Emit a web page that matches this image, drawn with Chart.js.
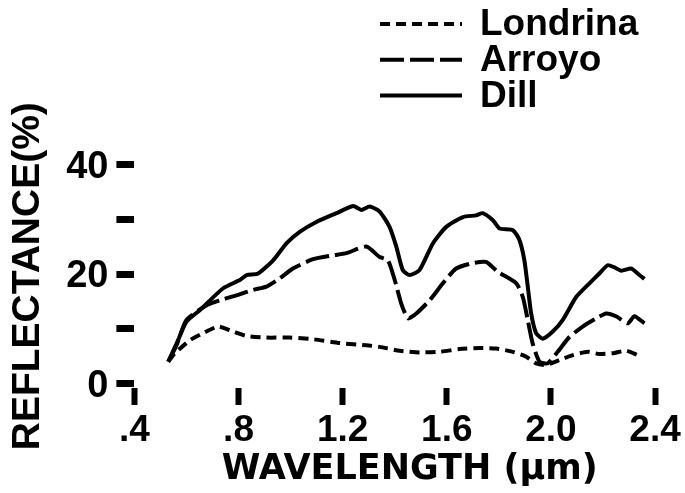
<!DOCTYPE html>
<html>
<head>
<meta charset="utf-8">
<script src="https://cdn.jsdelivr.net/npm/chart.js@4.4.1/dist/chart.umd.min.js"></script>
<style>
    html, body { margin: 0; padding: 0; background: #fff; }
    #wrap { width: 685px; height: 493px; position: relative; }
</style>
</head>
<body>
<div id="wrap"><canvas id="chartReflectance"></canvas></div>
<script>
// reflectance spectra of three soils

const seriesNames = ['Londrina', 'Arroyo', 'Dill'];

const londrinaWl = [0.530, 0.555, 0.613, 0.664, 0.722, 0.779, 0.831, 0.907, 0.997, 1.086, 1.189, 1.291, 1.342, 1.419, 1.495,
    1.572, 1.649, 1.726, 1.790, 1.854, 1.905, 1.943, 1.982, 2.033, 2.084, 2.141, 2.186, 2.244, 2.289, 2.333];
const londrinaRefl = [4.0, 5.5, 7.9, 9.2, 10.4, 9.5, 8.7, 8.4, 8.4, 8.1, 7.4, 7.0, 6.7, 6.0, 5.7,
    5.8, 6.3, 6.5, 6.4, 5.8, 4.9, 3.7, 3.4, 4.3, 5.2, 5.8, 5.4, 5.6, 6.0, 5.2];

const arroyoWl = [0.530, 0.562, 0.600, 0.677, 0.728, 0.792, 0.856, 0.907, 0.958, 1.009, 1.086, 1.163, 1.214, 1.291, 1.342,
    1.374, 1.400, 1.425, 1.451, 1.483, 1.534, 1.585, 1.636, 1.700, 1.751, 1.796, 1.867, 1.892, 1.911, 1.930,
    1.956, 1.988, 2.026, 2.071, 2.122, 2.174, 2.212, 2.250, 2.295, 2.321, 2.359];
const arroyoRefl = [4.0, 7.0, 11.6, 14.3, 15.2, 16.1, 17.1, 17.7, 19.2, 21.0, 22.7, 23.4, 23.8, 25.0, 23.1,
    22.5, 18.9, 14.6, 11.9, 12.8, 15.2, 18.3, 21.0, 22.0, 22.2, 20.4, 18.3, 15.8, 11.6, 7.3,
    4.0, 3.7, 5.8, 8.5, 10.4, 11.9, 12.8, 12.3, 11.0, 12.3, 11.0];

const dillWl = [0.530, 0.562, 0.600, 0.651, 0.741, 0.805, 0.831, 0.875, 0.933, 0.984, 1.035, 1.099, 1.176, 1.240, 1.272,
    1.304, 1.342, 1.380, 1.406, 1.431, 1.457, 1.495, 1.547, 1.598, 1.662, 1.713, 1.738, 1.777, 1.803, 1.854,
    1.879, 1.898, 1.911, 1.924, 1.943, 1.969, 2.007, 2.045, 2.097, 2.148, 2.186, 2.218, 2.244, 2.270, 2.308,
    2.333, 2.359];
const dillRefl = [4.0, 7.3, 11.3, 13.4, 17.4, 18.9, 19.8, 20.1, 22.5, 25.6, 27.7, 29.5, 31.1, 32.4, 31.7,
    32.3, 31.4, 28.6, 25.0, 20.7, 19.8, 20.7, 25.6, 28.6, 30.4, 30.7, 31.1, 29.8, 28.3, 28.0,
    26.2, 22.5, 17.7, 12.8, 9.2, 8.2, 9.5, 11.6, 15.8, 18.3, 20.1, 21.6, 21.2, 20.6, 21.0,
    20.1, 19.1];

const xTicks = [0.4, 0.8, 1.2, 1.6, 2.0, 2.4];
const xTickLabels = ['.4', '.8', '1.2', '1.6', '2.0', '2.4'];
const yTicks = [0, 10, 20, 30, 40];
const yTickLabels = ['0', '', '20', '', '40'];

const FONT_SANS = "'Liberation Sans', Arial, sans-serif";

function toPoints(wl, refl) {
    return wl.map((w, i) => ({ x: w, y: refl[i] }));
}

// legend: line sample on the left, name on the right, one per row
const legendaLinhas = {
    id: 'legendaLinhas',
    afterDraw(chart) {
        const ctx = chart.ctx;
        ctx.save();
        ctx.font = `bold 37px ${FONT_SANS}`;
        ctx.fillStyle = '#000';
        ctx.textBaseline = 'alphabetic';
        chart.data.datasets.forEach((ds, i) => {
            const base = 35 + i * 35.8;
            const yLine = base - 11;
            ctx.strokeStyle = ds.borderColor;
            ctx.lineWidth = ds.borderWidth;
            ctx.setLineDash(ds.borderDash || []);
            ctx.beginPath();
            ctx.moveTo(380, yLine);
            ctx.lineTo(462, yLine);
            ctx.stroke();
            ctx.setLineDash([]);
            ctx.fillText(ds.label, 480, base);
        });
        ctx.restore();
    }
};

const lineBase = {
    borderColor: '#000',
    borderWidth: 4,
    pointRadius: 0,
    fill: false,
    tension: 0.2
};

const ctx = document.getElementById('chartReflectance').getContext('2d');
new Chart(ctx, {
    type: 'line',
    data: {
        datasets: [
            { ...lineBase, label: seriesNames[0], data: toPoints(londrinaWl, londrinaRefl), borderDash: [10, 6] },
            { ...lineBase, label: seriesNames[1], data: toPoints(arroyoWl, arroyoRefl), borderDash: [24, 6] },
            { ...lineBase, label: seriesNames[2], data: toPoints(dillWl, dillRefl) }
        ]
    },
    options: {
        responsive: true,
        maintainAspectRatio: false,
        animation: false,
        layout: { padding: { top: 164.4, left: 0, right: 0, bottom: 0 } },
        plugins: {
            legend: { display: false },
            tooltip: { enabled: false }
        },
        scales: {
            x: {
                type: 'linear',
                min: 0.4,
                max: 2.515,
                afterBuildTicks: s => { s.ticks = xTicks.map(v => ({ value: v })); },
                afterFit: s => { s.height = 105; },
                border: { display: false },
                grid: { drawOnChartArea: false, drawTicks: true, tickLength: 17, tickWidth: 6, tickColor: '#000' },
                ticks: {
                    color: '#000',
                    padding: 4,
                    maxRotation: 0,
                    autoSkip: false,
                    font: { family: FONT_SANS, size: 37, weight: 'bold' },
                    callback: (v, i) => xTickLabels[i]
                },
                title: {
                    display: true,
                    text: 'WAVELENGTH (µm)',
                    color: '#000',
                    font: { family: "'DejaVu Sans', sans-serif", size: 35, weight: 'bold' },
                    padding: { top: 0, bottom: 2 }
                }
            },
            y: {
                type: 'linear',
                min: -0.8,
                max: 40,
                afterBuildTicks: s => { s.ticks = yTicks.map(v => ({ value: v })); },
                afterFit: s => { s.width = 134.4; },
                border: { display: false },
                grid: { drawOnChartArea: false, drawTicks: true, tickLength: 18, tickWidth: 7, tickColor: '#000' },
                ticks: {
                    color: '#000',
                    padding: 8,
                    labelOffset: 3,
                    font: { family: FONT_SANS, size: 38, weight: 'bold' },
                    callback: (v, i) => yTickLabels[i]
                },
                title: {
                    display: true,
                    text: 'REFLECTANCE(%)',
                    color: '#000',
                    font: { family: FONT_SANS, size: 39, weight: 'bold' },
                    padding: { top: 5, bottom: 0 }
                }
            }
        }
    },
    plugins: [legendaLinhas]
});
</script>
</body>
</html>
